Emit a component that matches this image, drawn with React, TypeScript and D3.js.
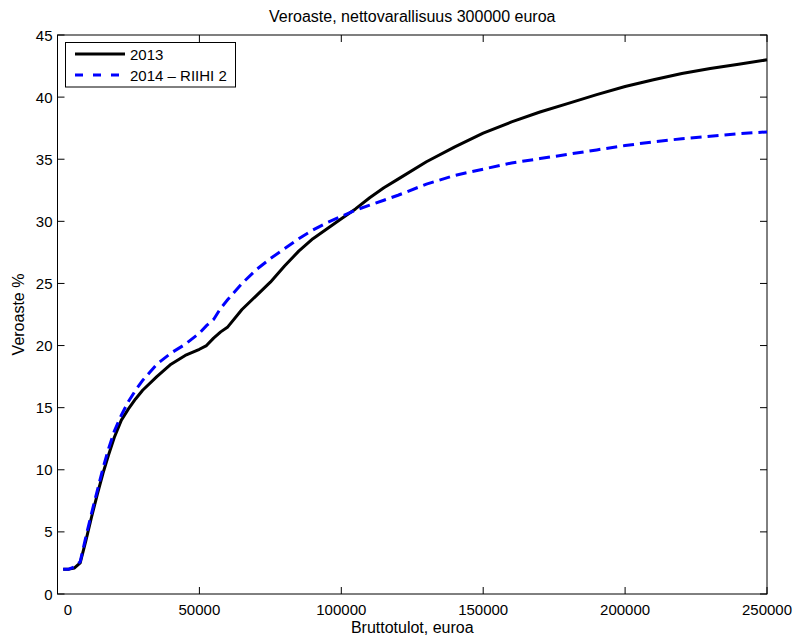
import React, { useEffect, useRef } from "react";
import * as d3 from "d3";

// income grid (euros)
const incomes = [
  2000, 4000, 6000, 8000, 10000, 12000, 14000, 16000, 18000, 20000, 22500,
  25000, 27500, 30000, 35000, 40000, 45000, 50000, 52500, 55000, 57500, 60000,
  65000, 70000, 75000, 80000, 85000, 90000, 95000, 100000, 105000, 110000,
  115000, 120000, 130000, 140000, 150000, 160000, 170000, 180000, 190000,
  200000, 210000, 220000, 230000, 240000, 250000,
];

const rate2013 = [
  2.0, 2.0, 2.1, 2.5, 4.3, 6.2, 8.0, 9.7, 11.2, 12.6, 14.0, 14.9, 15.7, 16.4,
  17.5, 18.5, 19.2, 19.7, 20.0, 20.6, 21.1, 21.5, 22.9, 24.0, 25.1, 26.4, 27.6,
  28.6, 29.4, 30.2, 31.0, 31.9, 32.7, 33.4, 34.8, 36.0, 37.1, 38.0, 38.8, 39.5,
  40.2, 40.85, 41.4, 41.9, 42.3, 42.65, 43.0,
];

const rate2014 = [
  2.0, 2.0, 2.2, 2.6, 4.6, 6.5, 8.3, 10.1, 11.7, 13.1, 14.4, 15.5, 16.4, 17.2,
  18.5, 19.4, 20.1, 21.0, 21.6, 22.1, 23.0, 23.7, 25.0, 26.1, 27.0, 27.8, 28.6,
  29.3, 29.9, 30.4, 30.9, 31.3, 31.7, 32.1, 33.0, 33.7, 34.2, 34.7, 35.05,
  35.4, 35.75, 36.1, 36.4, 36.65, 36.85, 37.05, 37.2,
];

const xTicks = [0, 50000, 100000, 150000, 200000, 250000];
const yTicks = [0, 5, 10, 15, 20, 25, 30, 35, 40, 45];
const seriesNames = ["2013", "2014 \u2013 RIIHI 2"];

export default function App() {
  const svgRef = useRef<SVGSVGElement>(null);

  useEffect(() => {
    const width = 794;
    const height = 636;
    const margin = { top: 35, right: 27, bottom: 42, left: 57.5 };
    const font = "'Liberation Sans', Arial, Helvetica, sans-serif";

    const svg = d3.select(svgRef.current);
    svg.selectAll("*").remove();

    const x = d3
      .scaleLinear()
      .domain([0, 250000])
      .range([margin.left, width - margin.right]);
    const y = d3
      .scaleLinear()
      .domain([0, 45])
      .range([height - margin.bottom, margin.top]);

    const [x0, x1] = x.range();
    const [y0, y1] = y.range();

    // box
    svg
      .append("rect")
      .attr("x", x0)
      .attr("y", y1)
      .attr("width", x1 - x0)
      .attr("height", y0 - y1)
      .attr("fill", "white")
      .attr("stroke", "black")
      .attr("stroke-width", 1);

    const tickLen = 7;
    const ticks = svg.append("g").attr("stroke", "black").attr("stroke-width", 1);
    xTicks.forEach((t) => {
      ticks.append("line").attr("x1", x(t)).attr("x2", x(t)).attr("y1", y0).attr("y2", y0 - tickLen);
      ticks.append("line").attr("x1", x(t)).attr("x2", x(t)).attr("y1", y1).attr("y2", y1 + tickLen);
    });
    yTicks.forEach((t) => {
      ticks.append("line").attr("x1", x0).attr("x2", x0 + tickLen).attr("y1", y(t)).attr("y2", y(t));
      ticks.append("line").attr("x1", x1).attr("x2", x1 - tickLen).attr("y1", y(t)).attr("y2", y(t));
    });

    // tick labels
    svg
      .append("g")
      .selectAll("text")
      .data(xTicks)
      .enter()
      .append("text")
      .attr("x", (d) => x(d) + (d === 0 ? 10.5 : 0))
      .attr("y", y0 + 21)
      .attr("text-anchor", "middle")
      .attr("font-family", font)
      .attr("font-size", 15)
      .text((d) => d);

    svg
      .append("g")
      .selectAll("text")
      .data(yTicks)
      .enter()
      .append("text")
      .attr("x", x0 - 5)
      .attr("y", (d) => y(d) + 5.5)
      .attr("text-anchor", "end")
      .attr("font-family", font)
      .attr("font-size", 15)
      .text((d) => d);

    // lines
    const line = d3
      .line<number>()
      .x((d, i) => x(incomes[i]))
      .y((d) => y(d));

    svg
      .append("path")
      .attr("d", line(rate2013))
      .attr("fill", "none")
      .attr("stroke", "black")
      .attr("stroke-width", 3)
      .attr("stroke-linejoin", "round");

    svg
      .append("path")
      .attr("d", line(rate2014))
      .attr("fill", "none")
      .attr("stroke", "#0000ff")
      .attr("stroke-width", 3)
      .attr("stroke-dasharray", "11,6");

    // titles
    svg
      .append("text")
      .attr("x", (x0 + x1) / 2)
      .attr("y", 22)
      .attr("text-anchor", "middle")
      .attr("font-family", font)
      .attr("font-size", 16)
      .text("Veroaste, nettovarallisuus 300000 euroa");

    svg
      .append("text")
      .attr("x", (x0 + x1) / 2)
      .attr("y", 633)
      .attr("text-anchor", "middle")
      .attr("font-family", font)
      .attr("font-size", 16)
      .text("Bruttotulot, euroa");

    svg
      .append("text")
      .attr("transform", `translate(24,${(y0 + y1) / 2}) rotate(-90)`)
      .attr("text-anchor", "middle")
      .attr("font-family", font)
      .attr("font-size", 16)
      .text("Veroaste %");

    // legend
    const lg = svg.append("g");
    lg.append("rect")
      .attr("x", 65.5)
      .attr("y", 42.5)
      .attr("width", 170)
      .attr("height", 44.5)
      .attr("fill", "white")
      .attr("stroke", "black")
      .attr("stroke-width", 1);
    const styles = [
      { stroke: "black", dash: null },
      { stroke: "#0000ff", dash: "8,10" },
    ];
    seriesNames.forEach((name, i) => {
      const ly = 54 + i * 21;
      lg.append("line")
        .attr("x1", 75)
        .attr("x2", 125)
        .attr("y1", ly)
        .attr("y2", ly)
        .attr("stroke", styles[i].stroke)
        .attr("stroke-width", 3)
        .attr("stroke-dasharray", styles[i].dash);
      lg.append("text")
        .attr("x", 130)
        .attr("y", ly + 5.5)
        .attr("font-family", font)
        .attr("font-size", 15)
        .text(name);
    });
  }, []);

  return (
    <svg
      ref={svgRef}
      width={794}
      height={636}
      style={{ position: "absolute", left: 0, top: 0, background: "white" }}
    />
  );
}
